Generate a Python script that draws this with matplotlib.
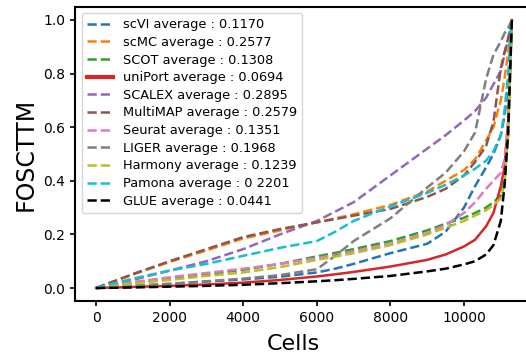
import matplotlib
matplotlib.use("Agg")
import matplotlib.pyplot as plt

# cell index (sorted FOSCTTM curves)
cells = [0, 1000, 2000, 3000, 4000, 5000, 6000, 6500, 7000, 8000, 9000, 9500,
         10000, 10300, 10600, 10800, 11000, 11100, 11200, 11300]

scvi = [0, 0.007, 0.015, 0.024, 0.032, 0.042, 0.058, 0.072, 0.09, 0.13, 0.165, 0.21,
        0.30, 0.38, 0.45, 0.50, 0.57, 0.64, 0.76, 1.0]
scmc = [0, 0.05, 0.097, 0.14, 0.185, 0.215, 0.245, 0.26, 0.275, 0.31, 0.36, 0.40,
        0.44, 0.48, 0.55, 0.60, 0.70, 0.78, 0.88, 1.0]
scot = [0, 0.02, 0.035, 0.052, 0.068, 0.09, 0.118, 0.131, 0.145, 0.175, 0.215, 0.24,
        0.262, 0.28, 0.30, 0.32, 0.345, 0.40, 0.58, 1.0]
uniport = [0, 0.004, 0.008, 0.013, 0.02, 0.03, 0.043, 0.051, 0.06, 0.08, 0.105, 0.125,
           0.155, 0.18, 0.23, 0.28, 0.38, 0.45, 0.62, 1.0]
scalex = [0, 0.03, 0.065, 0.1, 0.145, 0.2, 0.25, 0.285, 0.32, 0.42, 0.52, 0.57,
          0.625, 0.66, 0.71, 0.76, 0.81, 0.87, 0.93, 1.0]
multimap = [0, 0.052, 0.1, 0.145, 0.19, 0.22, 0.245, 0.257, 0.27, 0.295, 0.34, 0.37,
            0.42, 0.47, 0.53, 0.62, 0.82, 0.88, 0.93, 1.0]
seurat = [0, 0.022, 0.04, 0.056, 0.072, 0.09, 0.112, 0.124, 0.137, 0.165, 0.205, 0.235,
          0.28, 0.32, 0.37, 0.40, 0.43, 0.48, 0.62, 1.0]
liger = [0, 0.008, 0.016, 0.025, 0.035, 0.048, 0.07, 0.12, 0.175, 0.26, 0.375, 0.43,
         0.51, 0.58, 0.78, 0.87, 0.92, 0.95, 0.97, 1.0]
harmony = [0, 0.017, 0.03, 0.045, 0.058, 0.078, 0.105, 0.117, 0.13, 0.16, 0.2, 0.225,
           0.25, 0.27, 0.29, 0.31, 0.335, 0.39, 0.57, 1.0]
pamona = [0, 0.035, 0.065, 0.09, 0.12, 0.15, 0.175, 0.21, 0.25, 0.305, 0.355, 0.385,
          0.42, 0.445, 0.475, 0.51, 0.57, 0.66, 0.80, 1.0]
glue = [0, 0.002, 0.005, 0.008, 0.012, 0.018, 0.025, 0.029, 0.034, 0.045, 0.062, 0.072,
        0.088, 0.10, 0.125, 0.16, 0.25, 0.38, 0.58, 1.0]

methods = ["scVI", "scMC", "SCOT", "uniPort", "SCALEX", "MultiMAP", "Seurat",
           "LIGER", "Harmony", "Pamona", "GLUE"]
averages = ["0.1170", "0.2577", "0.1308", "0.0694", "0.2895", "0.2579", "0.1351",
            "0.1968", "0.1239", "0 2201", "0.0441"]
curves = [scvi, scmc, scot, uniport, scalex, multimap, seurat, liger, harmony, pamona, glue]
colors = ["tab:blue", "tab:orange", "tab:green", "tab:red", "tab:purple", "tab:brown",
          "tab:pink", "tab:gray", "tab:olive", "tab:cyan", "black"]

fig = plt.figure(figsize=(5.26, 3.62), dpi=100)
ax = fig.add_subplot(111)

for name, avg, y, c in zip(methods, averages, curves, colors):
    ls = "-" if name == "uniPort" else "--"
    ax.plot(cells, y, ls, color=c, lw=1.8, label=f"{name} average : {avg}")

ax.set_xlabel("Cells", fontsize=16)
ax.set_ylabel("FOSCTTM", fontsize=17)
ax.tick_params(labelsize=10, width=1.2)
for s in ax.spines.values():
    s.set_linewidth(1.5)

leg = ax.legend(loc="upper left", fontsize=9.3, labelspacing=0.36)
leg.get_lines()[3].set_linewidth(3)

# axes run past the right edge (original picture is cropped there)
ax.set_position([0.143, 0.1674, 0.8696, 0.8144])
ax.xaxis.set_label_coords(0.476, -0.11)

fig.savefig("out.png", dpi=100)
